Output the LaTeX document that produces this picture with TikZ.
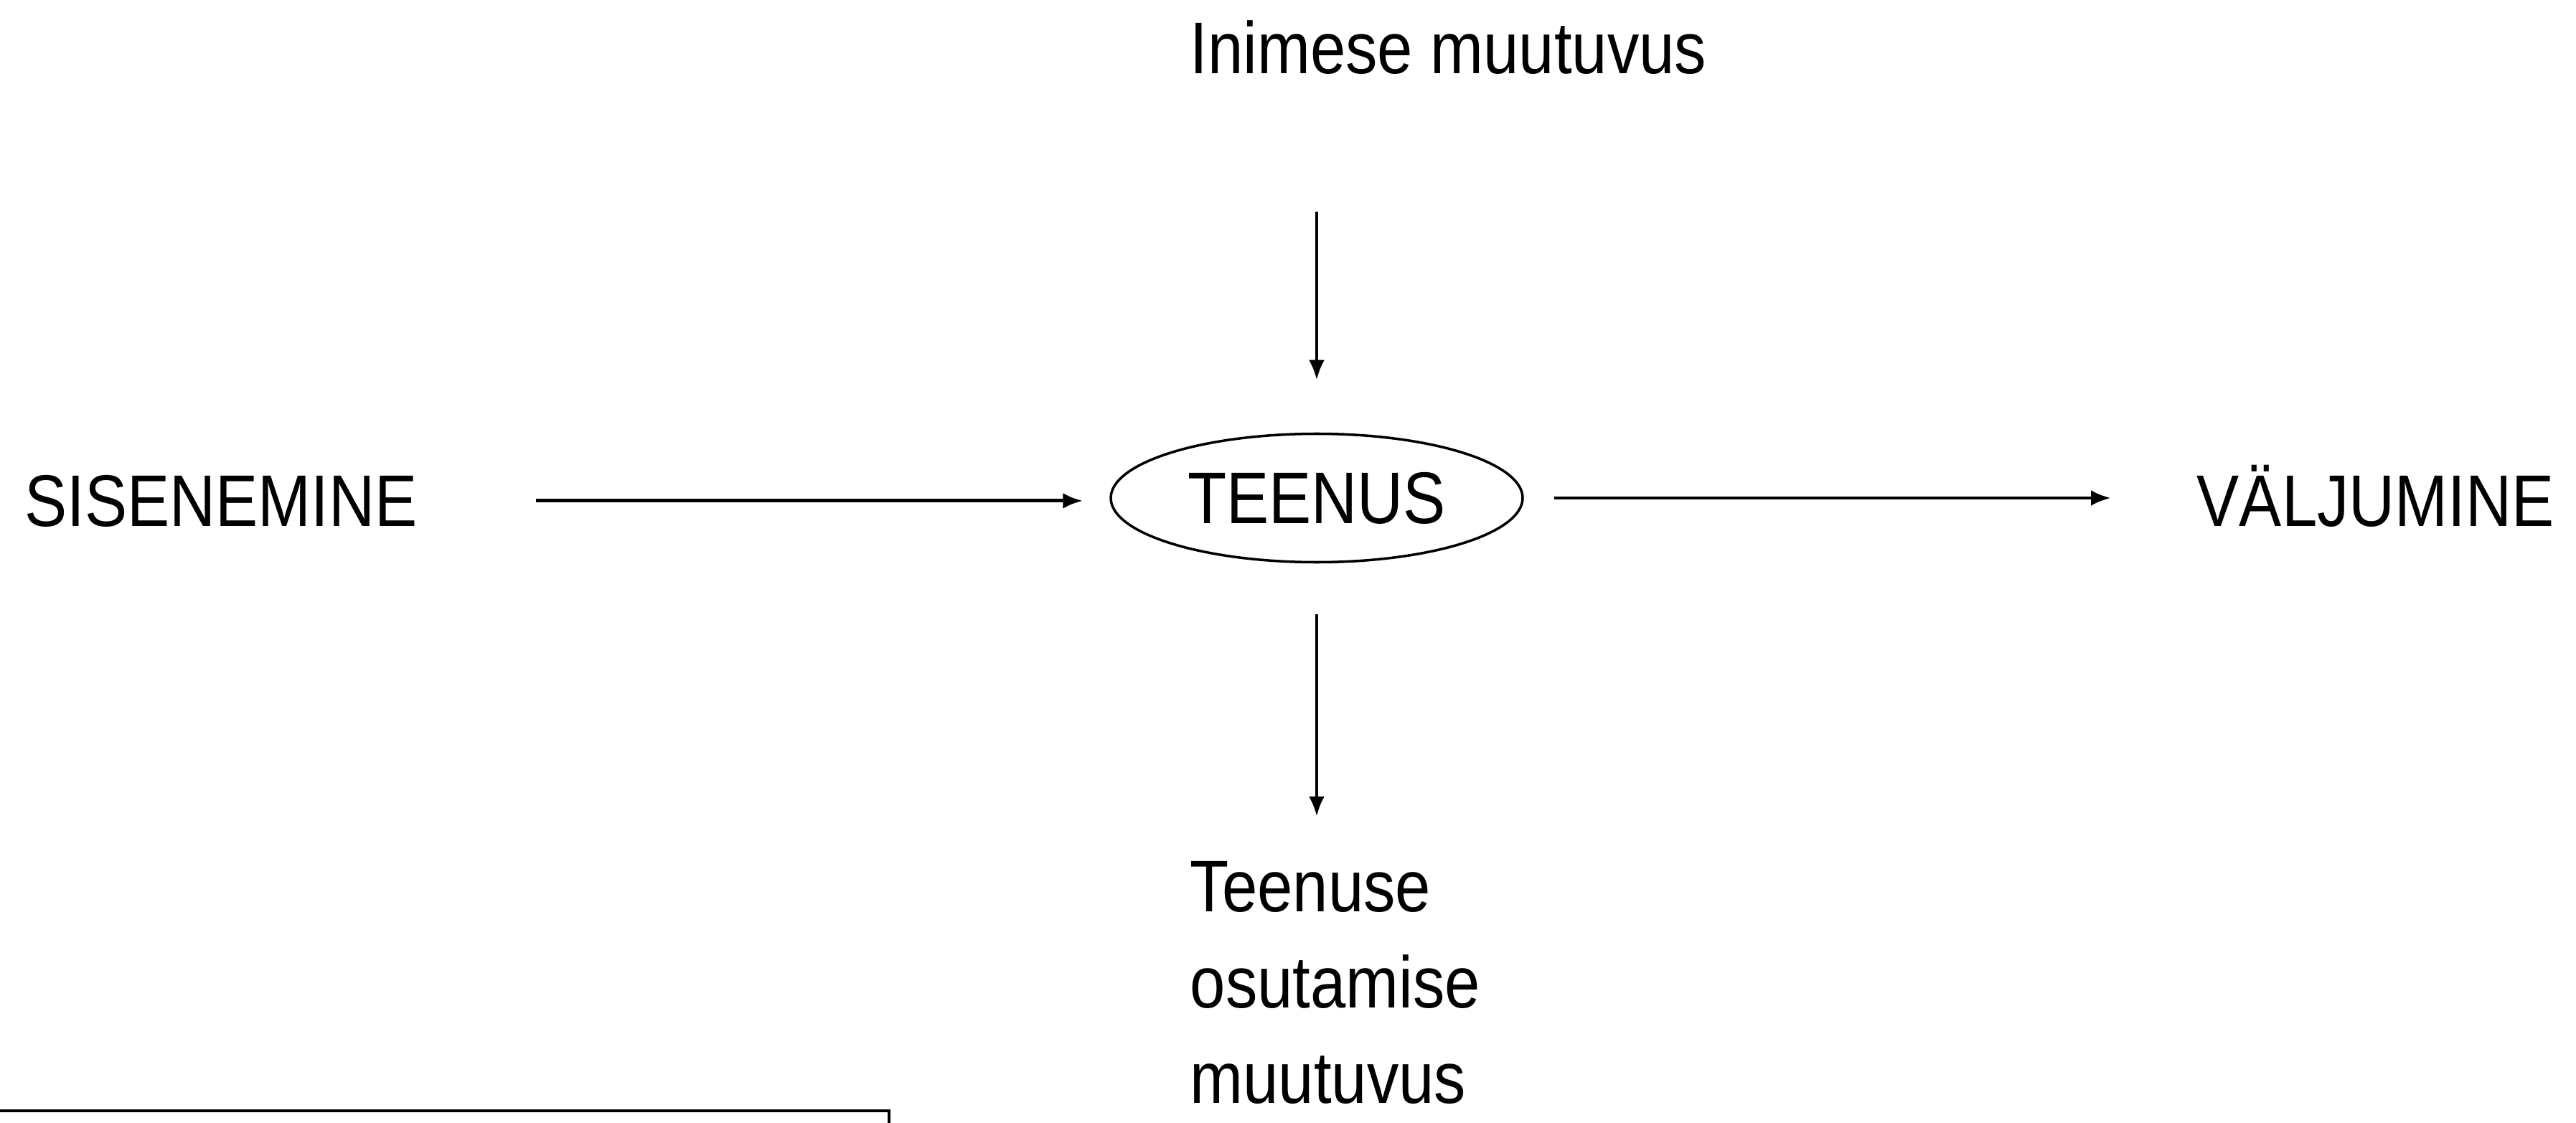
\documentclass[tikz,border=0pt]{standalone}
\usepackage{fontspec}
\setmainfont{Liberation Sans}[FakeStretch=0.87]
\usetikzlibrary{arrows.meta,shapes.geometric}
\begin{document}
\begin{tikzpicture}[
  lbl/.style={inner sep=0pt, font=\fontsize{29}{38}\selectfont},
  conn/.style={line width=1.4pt, -{Latex[length=0.28cm,width=0.22cm]}},
]
\useasboundingbox (0,0) rectangle (35.90,-15.65);
\node[lbl, anchor=base west] (top) at (16.58,-1.03) {Inimese muutuvus};
\node[draw, ellipse, line width=1pt, minimum width=5.74cm, minimum height=1.79cm, inner sep=0pt,
      font=\fontsize{29}{38}\selectfont] (ell) at (18.35,-6.94) {TEENUS};
\node[lbl, anchor=base west] (sis) at (0.34,-7.33) {SISENEMINE};
\node[lbl, anchor=base west] (val) at (30.61,-7.33) {VÄLJUMINE};
\node[lbl, anchor=north west, align=left] (bot) at (16.58,-12.0) {Teenuse\\osutamise\\muutuvus};
\draw[conn, shorten <=1.90cm, shorten >=0.73cm] (ell.north |- top.south) -- (ell.north);
\draw[conn, shorten <=0.71cm, shorten >=0.62cm] (ell.south) -- (ell.south |- bot.north);
\draw[conn, shorten <=1.65cm, shorten >=0.37cm] (sis.east) -- (sis.east -| ell.west);
\draw[conn, shorten <=0.42cm, shorten >=1.19cm] (ell.east) -- (ell.east -| val.west);
\draw[line width=1.4pt] (-0.2,-15.48) -- (12.39,-15.48) -- (12.39,-15.9);
\end{tikzpicture}
\end{document}
